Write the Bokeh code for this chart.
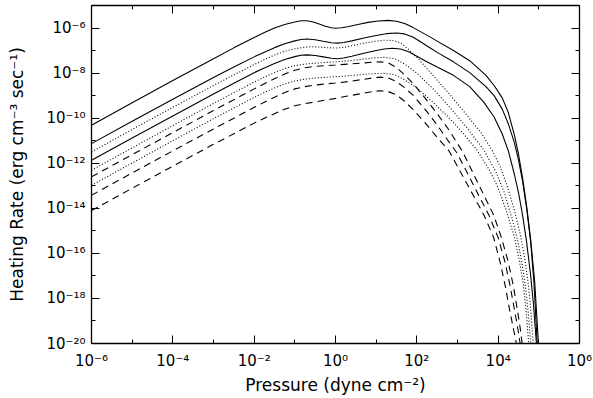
from bokeh.plotting import figure
from bokeh.models import LogAxis, FixedTicker, Range1d
from bokeh.embed import file_html
from bokeh.resources import INLINE

# ---- data (log10 pressure, log10 heating rate) ----
solid_a_logp = [-6, -5, -4, -3, -2.5, -2, -1.75, -1.5, -1.25, -1.0, -0.85, -0.7, -0.55, -0.4, -0.25, -0.1, 0.0, 0.15, 0.3, 0.55, 0.8, 1.05, 1.3, 1.5, 1.7, 1.9, 2.1, 2.3, 2.5, 2.9, 3.3, 3.7, 3.9, 4.1, 4.25, 4.4, 4.5, 4.6, 4.7, 4.8, 4.9, 4.99]
solid_a_logq = [-10.31, -9.32, -8.33, -7.36, -6.88, -6.42, -6.2, -6.0, -5.84, -5.73, -5.68, -5.68, -5.73, -5.82, -5.92, -5.99, -6.01, -5.99, -5.94, -5.84, -5.75, -5.69, -5.66, -5.7, -5.8, -5.97, -6.17, -6.37, -6.58, -7.0, -7.45, -8.1, -8.55, -9.1, -9.75, -10.75, -11.6, -12.65, -13.9, -15.4, -17.3, -20.0]

solid_b_logp = [-6, -5, -4, -3, -2.5, -2, -1.75, -1.5, -1.25, -1.0, -0.85, -0.7, -0.5, -0.3, -0.1, 0.05, 0.2, 0.4, 0.7, 1.0, 1.25, 1.5, 1.7, 1.9, 2.1, 2.3, 2.5, 2.9, 3.3, 3.7, 3.9, 4.1, 4.25, 4.4, 4.5, 4.6, 4.7, 4.8, 4.88, 4.96]
solid_b_logq = [-11.13, -10.14, -9.16, -8.2, -7.73, -7.28, -7.07, -6.87, -6.7, -6.57, -6.51, -6.49, -6.52, -6.59, -6.65, -6.67, -6.64, -6.57, -6.44, -6.33, -6.25, -6.22, -6.26, -6.4, -6.62, -6.85, -7.08, -7.5, -7.98, -8.6, -9.0, -9.6, -10.25, -11.1, -11.85, -12.8, -14.0, -15.5, -17.3, -20.0]

solid_c_logp = [-6, -5, -4, -3, -2.5, -2, -1.75, -1.5, -1.25, -1.0, -0.85, -0.7, -0.5, -0.3, -0.1, 0.05, 0.2, 0.4, 0.7, 1.0, 1.2, 1.4, 1.6, 1.8, 2.0, 2.2, 2.5, 2.9, 3.3, 3.65, 3.9, 4.1, 4.25, 4.4, 4.5, 4.6, 4.7, 4.8, 4.87, 4.94]
solid_c_logq = [-11.87, -10.88, -9.9, -8.93, -8.45, -7.98, -7.77, -7.57, -7.4, -7.27, -7.21, -7.19, -7.22, -7.28, -7.34, -7.36, -7.33, -7.25, -7.12, -7.0, -6.93, -6.9, -6.93, -7.05, -7.25, -7.45, -7.73, -8.1, -8.6, -9.3, -9.95, -10.7, -11.45, -12.5, -13.3, -14.3, -15.5, -17.0, -18.3, -20.0]

dot_a_logp = [-6, -5, -4, -3, -2.5, -2, -1.75, -1.5, -1.25, -1.0, -0.8, -0.6, -0.4, -0.2, 0.0, 0.2, 0.45, 0.7, 1.0, 1.2, 1.4, 1.6, 1.8, 2.0, 2.4, 2.8, 3.2, 3.6, 3.85, 4.05, 4.22, 4.4, 4.55, 4.66, 4.75, 4.81, 4.86]
dot_a_logq = [-11.5, -10.5, -9.52, -8.55, -8.08, -7.62, -7.4, -7.2, -7.03, -6.92, -6.86, -6.83, -6.84, -6.87, -6.89, -6.86, -6.77, -6.67, -6.58, -6.54, -6.55, -6.66, -6.95, -7.3, -8.1, -8.93, -9.8, -10.7, -11.42, -12.15, -13.0, -14.1, -15.2, -16.3, -17.5, -18.7, -20.0]

dot_b_logp = [-6, -5, -4, -3, -2.5, -2, -1.75, -1.5, -1.25, -1.0, -0.75, -0.5, -0.25, 0.0, 0.3, 0.6, 0.9, 1.2, 1.45, 1.7, 2.0, 2.4, 2.8, 3.2, 3.65, 3.95, 4.15, 4.35, 4.5, 4.6, 4.68, 4.75, 4.8]
dot_b_logq = [-12.31, -11.32, -10.33, -9.35, -8.87, -8.4, -8.18, -7.98, -7.8, -7.67, -7.6, -7.56, -7.53, -7.5, -7.46, -7.4, -7.33, -7.3, -7.36, -7.6, -8.0, -8.7, -9.5, -10.35, -11.42, -12.4, -13.3, -14.5, -15.6, -16.6, -17.6, -18.8, -20.0]

dot_c_logp = [-6, -5, -4, -3, -2.5, -2, -1.75, -1.5, -1.25, -1.0, -0.75, -0.5, -0.25, 0.0, 0.3, 0.6, 0.9, 1.2, 1.45, 1.7, 2.0, 2.4, 2.8, 3.15, 3.48, 3.8, 4.0, 4.2, 4.4, 4.52, 4.62, 4.7, 4.75]
dot_c_logq = [-12.98, -11.99, -11.0, -10.02, -9.55, -9.08, -8.86, -8.66, -8.48, -8.35, -8.27, -8.22, -8.19, -8.16, -8.12, -8.07, -8.03, -8.01, -8.07, -8.3, -8.65, -9.3, -10.0, -10.7, -11.42, -12.35, -13.1, -14.1, -15.3, -16.3, -17.4, -18.8, -20.0]

dash_a_logp = [-6, -5, -4, -3, -2.5, -2, -1.75, -1.5, -1.25, -1.0, -0.75, -0.5, -0.25, 0.0, 0.3, 0.6, 0.9, 1.1, 1.3, 1.5, 1.7, 1.9, 2.2, 2.5, 2.8, 3.13, 3.48, 3.89, 4.08, 4.25, 4.38, 4.48, 4.54, 4.59]
dash_a_logq = [-12.6, -11.62, -10.64, -9.66, -9.18, -8.7, -8.47, -8.25, -8.04, -7.87, -7.76, -7.7, -7.67, -7.64, -7.6, -7.56, -7.52, -7.5, -7.55, -7.75, -8.08, -8.45, -9.1, -9.8, -10.55, -11.5, -12.8, -14.3, -15.3, -16.4, -17.5, -18.6, -19.3, -20.0]

dash_b_logp = [-6, -5, -4, -3, -2.5, -2, -1.75, -1.5, -1.25, -1.0, -0.75, -0.5, -0.25, 0.0, 0.3, 0.6, 0.9, 1.1, 1.3, 1.5, 1.7, 1.9, 2.2, 2.5, 2.75, 2.99, 3.36, 3.77, 4.0, 4.17, 4.3, 4.4, 4.48, 4.54]
dash_b_logq = [-13.42, -12.43, -11.45, -10.48, -10.0, -9.52, -9.29, -9.07, -8.86, -8.7, -8.6, -8.53, -8.48, -8.44, -8.38, -8.3, -8.22, -8.18, -8.22, -8.38, -8.65, -8.97, -9.6, -10.3, -10.95, -11.55, -12.85, -14.3, -15.3, -16.4, -17.5, -18.5, -19.3, -20.0]

dash_c_logp = [-6, -5, -4, -3, -2.5, -2, -1.75, -1.5, -1.25, -1.0, -0.75, -0.5, -0.25, 0.0, 0.3, 0.6, 0.9, 1.1, 1.3, 1.5, 1.7, 1.9, 2.2, 2.5, 2.79, 3.2, 3.65, 3.89, 4.05, 4.18, 4.28, 4.37, 4.45]
dash_c_logq = [-14.1, -13.11, -12.13, -11.16, -10.69, -10.22, -10.0, -9.8, -9.6, -9.45, -9.35, -9.28, -9.2, -9.12, -9.02, -8.92, -8.82, -8.78, -8.82, -8.97, -9.25, -9.6, -10.2, -10.85, -11.45, -12.8, -14.3, -15.3, -16.4, -17.5, -18.5, -19.3, -20.0]

x_tick_exp = [-6, -4, -2, 0, 2, 4, 6]
x_tick_labels = ["10\u207b\u2076", "10\u207b\u2074", "10\u207b\u00b2", "10\u2070", "10\u00b2", "10\u2074", "10\u2076"]
x_minor_exp = [-5, -3, -1, 1, 3, 5]
y_tick_exp = [-20, -18, -16, -14, -12, -10, -8, -6]
y_tick_labels = ["10\u207b\u00b2\u2070", "10\u207b\u00b9\u2078", "10\u207b\u00b9\u2076", "10\u207b\u00b9\u2074",
                 "10\u207b\u00b9\u00b2", "10\u207b\u00b9\u2070", "10\u207b\u2078", "10\u207b\u2076"]
y_minor_exp = [-19, -17, -15, -13, -11, -9, -7, -5]

x_title = "Pressure (dyne cm\u207b\u00b2)"
y_title = "Heating Rate (erg cm\u207b\u00b3 sec\u207b\u00b9)"

FONT = "DejaVu Sans"

p = figure(frame_width=488, frame_height=338, x_axis_type="log", y_axis_type="log",
           x_range=Range1d(1e-6, 1e6), y_range=Range1d(1e-20, 1e-5),
           output_backend="svg", toolbar_location=None,
           min_border_left=91, min_border_right=13, min_border_top=5, min_border_bottom=54)
p.xgrid.visible = False
p.ygrid.visible = False
p.outline_line_color = None
p.background_fill_color = "white"
p.border_fill_color = "white"

xt = FixedTicker(ticks=[10.0 ** e for e in x_tick_exp], minor_ticks=[10.0 ** e for e in x_minor_exp])
yt = FixedTicker(ticks=[10.0 ** e for e in y_tick_exp], minor_ticks=[10.0 ** e for e in y_minor_exp])
x_over = {10.0 ** e: s for e, s in zip(x_tick_exp, x_tick_labels)}
y_over = {10.0 ** e: s for e, s in zip(y_tick_exp, y_tick_labels)}
x_blank = {10.0 ** e: " " for e in x_tick_exp}
y_blank = {10.0 ** e: " " for e in y_tick_exp}


def style(ax):
    ax.axis_line_color = "black"
    ax.axis_line_width = 1.3
    ax.major_tick_in = 8
    ax.major_tick_out = 0
    ax.minor_tick_in = 4
    ax.minor_tick_out = 0
    ax.major_tick_line_color = "black"
    ax.minor_tick_line_color = "black"
    ax.major_tick_line_width = 1
    ax.minor_tick_line_width = 1
    ax.major_label_text_font = FONT
    ax.major_label_text_font_size = "15px"
    ax.major_label_text_color = "black"
    ax.axis_label_text_font = FONT
    ax.axis_label_text_font_size = "17px"
    ax.axis_label_text_font_style = "normal"
    ax.axis_label_text_color = "black"


xa = p.xaxis[0]
xa.ticker = xt
xa.major_label_overrides = x_over
xa.axis_label = x_title
style(xa)
xa.major_label_standoff = 8
xa.axis_label_standoff = 2

ya = p.yaxis[0]
ya.ticker = yt
ya.major_label_overrides = y_over
ya.axis_label = y_title
style(ya)
ya.major_label_standoff = 6
ya.axis_label_standoff = 16

top = LogAxis(ticker=xt)
style(top)
top.major_label_overrides = x_blank
top.major_label_text_font_size = "1px"
top.major_label_text_color = None
top.major_label_standoff = 0
p.add_layout(top, "above")

right = LogAxis(ticker=yt)
style(right)
right.major_label_overrides = y_blank
right.major_label_text_font_size = "1px"
right.major_label_text_color = None
right.major_label_standoff = 0
p.add_layout(right, "right")

curves = [
    (solid_a_logp, solid_a_logq, "solid"),
    (solid_b_logp, solid_b_logq, "solid"),
    (solid_c_logp, solid_c_logq, "solid"),
    (dot_a_logp, dot_a_logq, "1 2"),
    (dot_b_logp, dot_b_logq, "1 2"),
    (dot_c_logp, dot_c_logq, "1 2"),
    (dash_a_logp, dash_a_logq, "7 5"),
    (dash_b_logp, dash_b_logq, "7 5"),
    (dash_c_logp, dash_c_logq, "7 5"),
]
for lx, ly, dash in curves:
    p.line([10.0 ** v for v in lx], [10.0 ** v for v in ly],
           line_color="black", line_width=1.1, line_dash=dash)

open("out.html", "w").write(file_html(p, INLINE))
